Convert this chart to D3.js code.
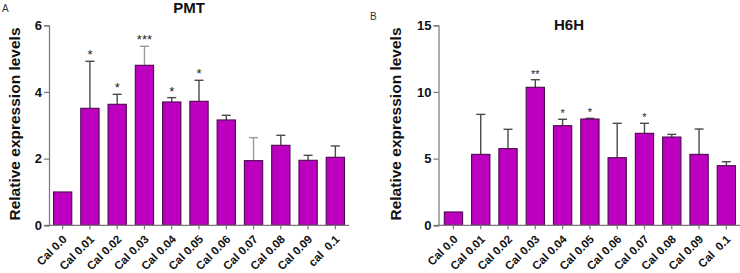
<!DOCTYPE html>
<html>
<head>
<meta charset="utf-8">
<script src="https://cdn.jsdelivr.net/npm/d3@7"></script>
<style>
  html, body { margin: 0; padding: 0; background: #fff; }
  svg { display: block; }
  text { font-family: "Liberation Sans", Arial, sans-serif; }
</style>
</head>
<body>
<svg id="chart" width="740" height="273"></svg>
<script>
// ---------- DATA ----------
const categoriesPMT = ["Cal 0.0","Cal 0.01","Cal 0.02","Cal 0.03","Cal 0.04","Cal 0.05","Cal 0.06","Cal 0.07","Cal 0.08","Cal 0.09","cal  0.1"];
const valuesPMT = [1.0, 3.51, 3.63, 4.80, 3.70, 3.72, 3.16, 1.94, 2.40, 1.95, 2.04];
const errorsPMT = [0, 1.41, 0.30, 0.57, 0.13, 0.63, 0.14, 0.69, 0.30, 0.15, 0.34];
const starsPMT = ["", "*", "*", "***", "*", "*", "", "", "", "", ""];
const ticksPMT = [0, 2, 4, 6];

const categoriesH6H = ["Cal 0.0","Cal 0.01","Cal 0.02","Cal 0.03","Cal 0.04","Cal 0.05","Cal 0.06","Cal 0.07","Cal 0.08","Cal 0.09","Cal  0.1"];
const valuesH6H = [1.0, 5.32, 5.75, 10.35, 7.47, 7.97, 5.07, 6.90, 6.62, 5.32, 4.47];
const errorsH6H = [0, 3.00, 1.45, 0.57, 0.48, 0.05, 2.58, 0.75, 0.20, 1.90, 0.30];
const starsH6H = ["", "", "", "**", "*", "*", "", "*", "", "", ""];
const ticksH6H = [0, 5, 10, 15];

const yLabel = "Relative expression levels";

// ---------- DRAW ----------
const svg = d3.select("#chart");

function panel(cfg) {
  const g = svg.append("g");
  const x = d3.scaleBand().domain(cfg.categories).range([cfg.x0, cfg.x1]).padding(0);
  const y = d3.scaleLinear().domain([0, cfg.ymax]).range([225.3, 25.3]);
  const barW = x.bandwidth() * 0.67;
  const cx = c => x(c) + x.bandwidth() / 2;
  const rows = cfg.categories.map((c, i) => ({c, v: cfg.values[i], e: cfg.errors[i], s: cfg.stars[i], i}));

  // error bars (behind bars)
  const eb = g.append("g");
  rows.filter(d => d.e > 0).forEach(d => {
    const col = cfg.lightErr.includes(d.i) ? "#9a9a9a" : "#4a4a4a";
    eb.append("line").attr("x1", cx(d.c)).attr("x2", cx(d.c))
      .attr("y1", y(d.v)).attr("y2", y(d.v + d.e))
      .attr("stroke", col).attr("stroke-width", 1.4);
    eb.append("line").attr("x1", cx(d.c) - 4.5).attr("x2", cx(d.c) + 4.5)
      .attr("y1", y(d.v + d.e)).attr("y2", y(d.v + d.e))
      .attr("stroke", col).attr("stroke-width", 1.4);
  });

  // bars
  g.append("g").selectAll("rect").data(rows).join("rect")
    .attr("x", d => cx(d.c) - barW / 2)
    .attr("y", d => y(d.v))
    .attr("width", barW)
    .attr("height", d => y(0) - y(d.v))
    .attr("fill", "#BD00BF")
    .attr("stroke", "#4a0a4f")
    .attr("stroke-width", 1.1);

  // stars
  g.append("g").selectAll("text").data(rows.filter(d => d.s)).join("text")
    .attr("x", d => cx(d.c))
    .attr("y", d => y(d.v + d.e) - 2)
    .attr("text-anchor", "middle")
    .attr("font-size", cfg.starSize)
    .attr("fill", "#222")
    .text(d => d.s);

  // y axis
  const ya = g.append("g").attr("transform", `translate(${cfg.axisX},0)`)
    .call(d3.axisLeft(y).tickValues(cfg.ticks).tickSize(5).tickPadding(2).tickFormat(d3.format("d")));
  ya.select(".domain").attr("stroke", "#777").attr("stroke-width", 1.2);
  ya.selectAll(".tick line").attr("stroke", "#777").attr("stroke-width", 1.2);
  ya.selectAll("text").attr("font-size", 13).attr("font-weight", "bold").attr("fill", "#111")
    .style("font-family", '"Liberation Sans", Arial, sans-serif');

  // x axis
  const xa = g.append("g").attr("transform", `translate(0,${y(0)})`)
    .call(d3.axisBottom(x).tickSize(4).tickSizeOuter(0).tickFormat(""));
  xa.select(".domain").attr("stroke", "#777").attr("stroke-width", 1.2)
    .attr("d", `M${cfg.axisX - 4},0H${cfg.x1}`);
  xa.selectAll(".tick line").attr("stroke", "#777").attr("stroke-width", 1.2);

  // x labels
  g.append("g").selectAll("text").data(rows).join("text")
    .attr("transform", d => `translate(${cx(d.c) + 5},${240}) rotate(-45)`)
    .attr("text-anchor", "end")
    .attr("font-size", 11.5)
    .attr("font-weight", "bold")
    .attr("fill", "#111")
    .style("white-space", "pre")
    .text(d => d.c);

  // y label
  g.append("text")
    .attr("transform", `translate(${cfg.labelX},124) rotate(-90)`)
    .attr("text-anchor", "middle")
    .attr("font-size", 15.5)
    .attr("font-weight", "bold")
    .attr("fill", "#111")
    .text(yLabel);

  // title
  g.append("text").attr("x", cfg.titleX).attr("y", cfg.titleY)
    .attr("text-anchor", "middle").attr("font-size", 15).attr("font-weight", "bold")
    .attr("fill", "#111").text(cfg.title);

  // panel letter
  g.append("text").attr("x", cfg.letterX).attr("y", cfg.letterY)
    .attr("font-size", 10).attr("fill", "#333").text(cfg.letter);
}

panel({
  categories: categoriesPMT, values: valuesPMT, errors: errorsPMT, stars: starsPMT, ticks: ticksPMT,
  ymax: 6, x0: 49, x1: 349, axisX: 49, labelX: 20, title: "PMT", titleX: 189, titleY: 12.5,
  letter: "A", letterX: 2, letterY: 12, starSize: 13, lightErr: [3, 7]
});
panel({
  categories: categoriesH6H, values: valuesH6H, errors: errorsH6H, stars: starsH6H, ticks: ticksH6H,
  ymax: 15, x0: 439.8, x1: 740, axisX: 438.5, labelX: 401, title: "H6H", titleX: 569, titleY: 30,
  letter: "B", letterX: 370, letterY: 20, starSize: 11, lightErr: []
});
</script>
</body>
</html>
